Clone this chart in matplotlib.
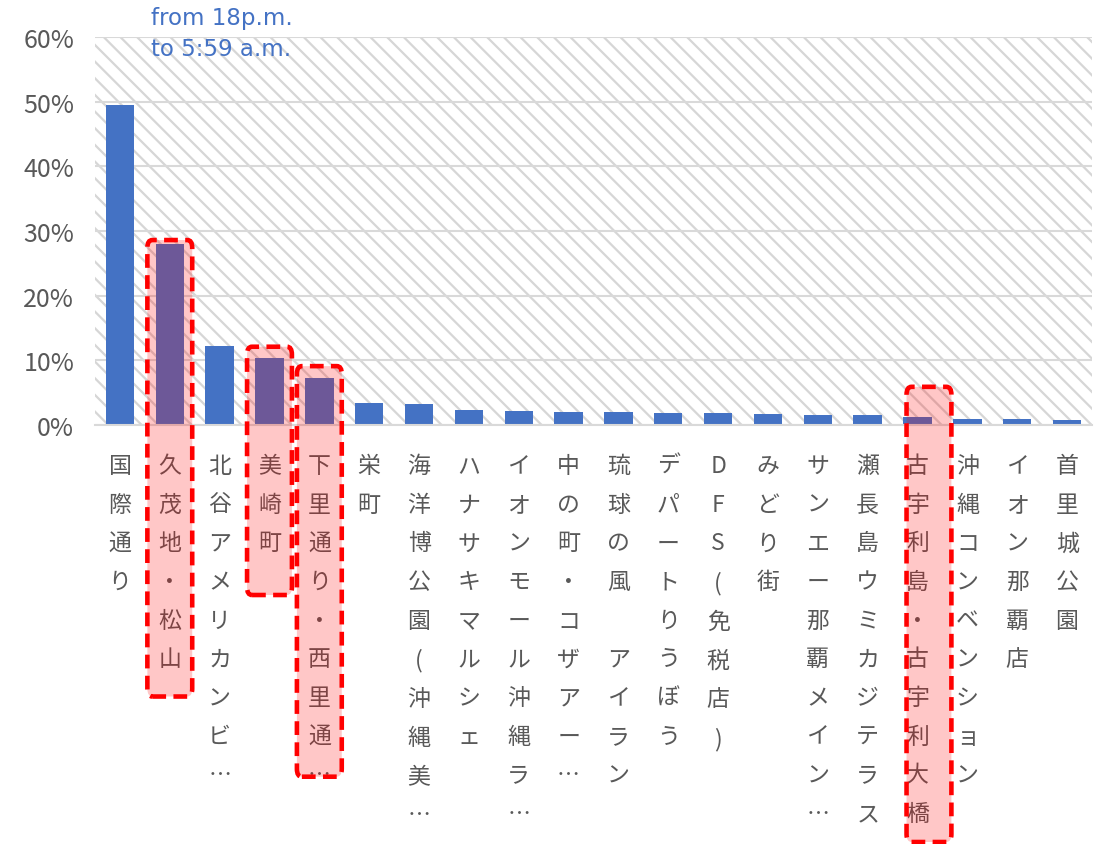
import matplotlib
matplotlib.use("Agg")
import matplotlib.pyplot as plt
from matplotlib.patches import Rectangle, FancyBboxPatch
from matplotlib.ticker import PercentFormatter

plt.rcParams["font.family"] = ["Noto Sans CJK JP", "DejaVu Sans"]
plt.rcParams["hatch.linewidth"] = 1.6

# data
places = ["国際通り", "久茂地・松山", "北谷アメリカンビ…", "美崎町", "下里通り・西里通…",
          "栄町", "海洋博公園(沖縄美…", "ハナサキマルシェ", "イオンモール沖縄ラ…",
          "中の町・コザアー…", "琉球の風　アイラン", "デパートりうぼう", "DFS(免税店)",
          "みどり街", "サンエー那覇メイン…", "瀬長島ウミカジテラス", "古宇利島・古宇利大橋",
          "沖縄コンベンション", "イオン那覇店", "首里城公園"]
shares = [49.5, 28.0, 12.2, 10.4, 7.2, 3.4, 3.2, 2.3, 2.1, 2.0,
          2.0, 1.8, 1.8, 1.7, 1.6, 1.5, 1.2, 0.9, 0.9, 0.8]
# highlighted spots: index, box top (%), box bottom (%), sideways shift
highlight_idx = [1, 3, 4, 16]
highlight_top = [28.6, 12.1, 9.1, 5.9]
highlight_bottom = [-42.0, -26.3, -54.4, -64.5]
highlight_shift = [0, 0, 0, 0.23]
note = "from 18p.m.\nto 5:59 a.m."

blue = "#4472C4"
grey_txt = "#595959"
grid_col = "#D9D9D9"

fig = plt.figure(figsize=(11.01, 8.45), dpi=100)
ax = fig.add_axes([0.0863, 0.4959, 0.9055, 0.4591])

x = list(range(len(places)))
ax.bar(x, shares, width=0.57, color=blue, zorder=3)

# hatched plot area
ax.add_patch(Rectangle((0, 0), 1, 1, transform=ax.transAxes, facecolor="white",
                       edgecolor="#D6D6D6", hatch="\\\\", lw=0, zorder=0))

ax.set_xlim(-0.5, len(places) - 0.5)
ax.set_ylim(0, 60)
ax.set_yticks(range(0, 61, 10))
ax.yaxis.set_major_formatter(PercentFormatter(decimals=0))
ax.grid(axis="y", color=grid_col, lw=1.5, zorder=1)
ax.set_axisbelow(True)
for s in ["top", "right", "left"]:
    ax.spines[s].set_visible(False)
ax.spines["bottom"].set_color(grid_col)
ax.spines["bottom"].set_linewidth(1.5)
ax.spines["bottom"].set_zorder(4)

ax.set_xticks(x)
ax.set_xticklabels(["\n".join(p) for p in places], va="top", ha="center",
                   fontsize=16.5, color=grey_txt, linespacing=1.87)
ax.tick_params(axis="x", length=0, pad=21)
ax.tick_params(axis="y", length=0, pad=15, labelsize=18, labelcolor=grey_txt)

for i, top, bot, sh in zip(highlight_idx, highlight_top, highlight_bottom,
                           highlight_shift):
    box = FancyBboxPatch((i - 0.45 + sh, bot), 0.9, top - bot,
                         boxstyle="round,pad=0,rounding_size=0.1",
                         mutation_aspect=12,
                         facecolor=(1, 0, 0, 0.22), edgecolor="#FF0000",
                         lw=3.3, linestyle=(0, (3, 1.6)), clip_on=False, zorder=5)
    ax.add_patch(box)

fig.text(151 / 1101, 1 - 7 / 845, note, color=blue, fontsize=16.5, va="top",
         ha="left", linespacing=1.45, family="DejaVu Sans")

fig.savefig("out.png", dpi=100)
